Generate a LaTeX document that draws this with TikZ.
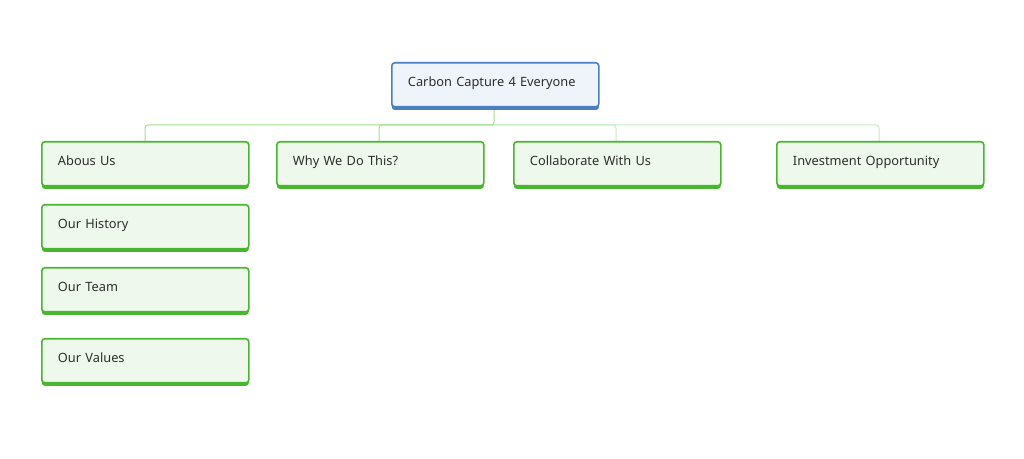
\documentclass[tikz,border=0pt]{standalone}
\usepackage{fontspec}
\setmainfont{Noto Sans}
\usetikzlibrary{shadows}
\definecolor{rootborder}{HTML}{4A7FC1}
\definecolor{rootfill}{HTML}{EFF4FA}
\definecolor{boxborder}{HTML}{48B62E}
\definecolor{boxfill}{HTML}{EFF8EC}
\definecolor{txt}{HTML}{2E2E2E}
\definecolor{linkA}{HTML}{A4DE8C}
\definecolor{linkB}{HTML}{C2EFC2}
\tikzset{
  x=0.75pt, y=-0.75pt,
  topic/.style={draw=boxborder, fill=boxfill, line width=1.2pt, rounded corners=2.25pt,
    minimum width=155.25pt, minimum height=33pt, text width=131pt, align=left,
    inner xsep=12pt, anchor=north west, font=\fontsize{9.6}{11}\selectfont, text=txt,
    text height=7pt, text depth=4.8pt,
    general shadow={fill=boxborder, shadow yshift=-2.3pt}},
  roottopic/.style={topic, draw=rootborder, fill=rootfill,
    general shadow={fill=rootborder, shadow yshift=-2.3pt}},
  linkl/.style={draw=linkA, line width=0.75pt, rounded corners=2.25pt},
  linkr/.style={draw=linkB, line width=0.75pt, rounded corners=2.25pt},
}
\begin{document}
\begin{tikzpicture}
\useasboundingbox[fill=white] (0,0) rectangle (1024,459);
\coordinate (bus) at (494,125);
\draw[linkl] (494,108) -- (bus) -| (145,141);
\draw[linkl] (bus) -| (379,141);
\draw[linkr] (bus) -| (616,141);
\draw[linkr] (bus) -| (879,141);
\node[roottopic] (root) at (391,62) {Carbon Capture 4 Everyone};
\node[topic] (about) at (41,141) {Abous Us};
\node[topic] (why) at (276,141) {Why We Do This?};
\node[topic] (collab) at (513,141) {Collaborate With Us};
\node[topic] (invest) at (776,141) {Investment Opportunity};
\node[topic] (history) at (41,204) {Our History};
\node[topic] (team) at (41,267) {Our Team};
\node[topic] (values) at (41,338) {Our Values};
\end{tikzpicture}
\end{document}
